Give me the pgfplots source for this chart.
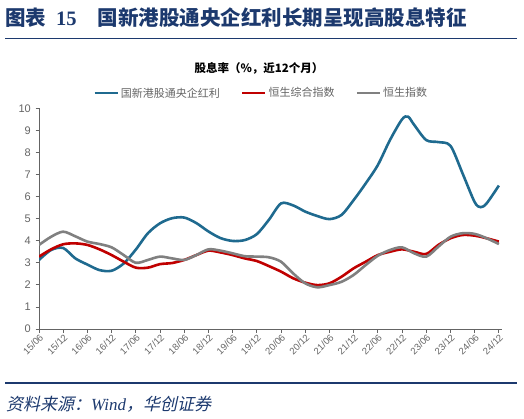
\documentclass[border=0pt]{standalone}
\usepackage{fontspec}
\usepackage{pgfplots}
\pgfplotsset{compat=1.18}
\setmainfont{Liberation Sans}
\newfontfamily\cjk{Noto Sans CJK SC}
\newfontfamily\cjkit[FakeSlant=0.22]{Noto Sans CJK SC}
\newfontfamily\timesf{Liberation Serif}
\definecolor{sblue}{RGB}{31,106,143}
\definecolor{sred}{RGB}{192,0,0}
\definecolor{sgray}{RGB}{128,128,128}
\definecolor{navy}{RGB}{28,57,110}
\definecolor{lblgray}{RGB}{100,100,100}
\definecolor{axgray}{RGB}{100,100,100}
\pgfplotstableread{
x y
0 3.13
0.5 3.58
1 3.67
1.5 3.2
2 2.92
2.5 2.67
3 2.64
3.5 2.97
4 3.6
4.5 4.34
5 4.79
5.5 5.02
6 5.05
6.5 4.8
7 4.42
7.5 4.12
8 3.99
8.5 4.03
9 4.3
9.5 4.95
10 5.69
10.5 5.6
11 5.32
11.5 5.12
12 4.98
12.5 5.17
13 5.84
13.5 6.6
14 7.43
14.5 8.56
15 9.5
15.25 9.62
15.5 9.25
16 8.56
16.5 8.47
17 8.3
17.5 7.05
18 5.75
18.25 5.52
18.5 5.7
19 6.5
}\blue
\pgfplotstableread{
x y
0 3.28
0.5 3.61
1 3.84
1.5 3.88
2 3.81
2.5 3.61
3 3.35
3.5 3.05
4 2.78
4.5 2.78
5 2.94
5.5 2.99
6 3.13
6.5 3.35
7 3.55
7.5 3.47
8 3.35
8.5 3.2
9 3.08
9.5 2.85
10 2.6
10.5 2.3
11 2.1
11.5 1.99
12 2.07
12.5 2.37
13 2.75
13.5 3.05
14 3.35
14.5 3.5
15 3.61
15.5 3.5
16 3.4
16.5 3.81
17 4.11
17.5 4.26
18 4.23
18.5 4.11
19 3.96
}\red
\pgfplotstableread{
x y
0 3.81
0.5 4.18
1 4.41
1.5 4.2
2 3.96
2.5 3.85
3 3.7
3.5 3.35
4 3.0
4.5 3.13
5 3.28
5.5 3.2
6 3.13
6.5 3.35
7 3.61
7.5 3.55
8 3.43
8.5 3.3
9 3.28
9.5 3.25
10 3.05
10.5 2.52
11 2.07
11.5 1.89
12 1.99
12.5 2.14
13 2.45
13.5 2.9
14 3.32
14.5 3.58
15 3.7
15.5 3.43
16 3.28
16.5 3.73
17 4.18
17.5 4.34
18 4.31
18.5 4.11
19 3.85
}\gray
\begin{document}
\begin{tikzpicture}[x=1bp,y=1bp]
\useasboundingbox (0,0) rectangle (524,-418);
\node[anchor=west,text=navy,inner sep=0] at (5,-18) {\fontsize{20.5bp}{24bp}\cjk\bfseries 图表\hspace{10bp}{\timesf\bfseries 15}\hspace{21bp}国新港股通央企红利长期呈现高股息特征};
\draw[navy,line width=1.6bp] (5,-38.5) -- (517,-38.5);
\node[inner sep=0] at (259,-68) {\fontsize{11.5bp}{14bp}\cjk\bfseries 股息率（\%，近12个月）};
\begin{axis}[
  at={(39bp,-329bp)}, anchor=south west,
  scale only axis, width=463bp, height=220.7bp,
  xmin=0, xmax=19.13, ymin=0, ymax=10,
  axis x line*=bottom, axis y line*=left,
  axis line style={axgray,line width=0.9bp},
  every tick/.style={axgray,line width=0.8bp},
  tick align=outside, major tick length=3.5bp,
  xtick={0,...,19},
  xticklabels={15/06,15/12,16/06,16/12,17/06,17/12,18/06,18/12,19/06,19/12,20/06,20/12,21/06,21/12,22/06,22/12,23/06,23/12,24/06,24/12},
  ytick={0,1,...,10},
  tick label style={text=lblgray},
  y tick label style={font=\fontsize{11bp}{13bp}\selectfont, inner sep=1bp, xshift=-3.5bp},
  x tick label style={font=\fontsize{9.5bp}{11bp}\selectfont, rotate=45, anchor=north east, inner sep=0.5bp},
  /pgf/number format/assume math mode=true,
  legend style={at={(0.48,1.069)}, anchor=center, draw=none, fill=none,
    legend columns=3, font=\fontsize{11bp}{13bp}\cjk\color{lblgray},
    /tikz/every even column/.append style={column sep=19bp},
    inner sep=0pt},
  legend image code/.code={\draw[line width=2.6bp] (0bp,0bp) -- (23bp,0bp);},
  legend cell align=left,
]
\addplot[sblue, line width=2.6bp, smooth, tension=0.5] table[x=x,y=y] {\blue};
\addlegendentry{国新港股通央企红利}
\addplot[sred, line width=2.6bp, smooth, tension=0.5] table[x=x,y=y] {\red};
\addlegendentry{恒生综合指数}
\addplot[sgray, line width=2.6bp, smooth, tension=0.5] table[x=x,y=y] {\gray};
\addlegendentry{恒生指数}
\end{axis}
\draw[navy,line width=2bp] (5,-383) -- (517,-383);
\node[anchor=west,text=navy,inner sep=0] at (6,-404) {\fontsize{17bp}{20bp}\cjkit 资料来源：{\timesf\itshape Wind}，华创证券};
\end{tikzpicture}
\end{document}
